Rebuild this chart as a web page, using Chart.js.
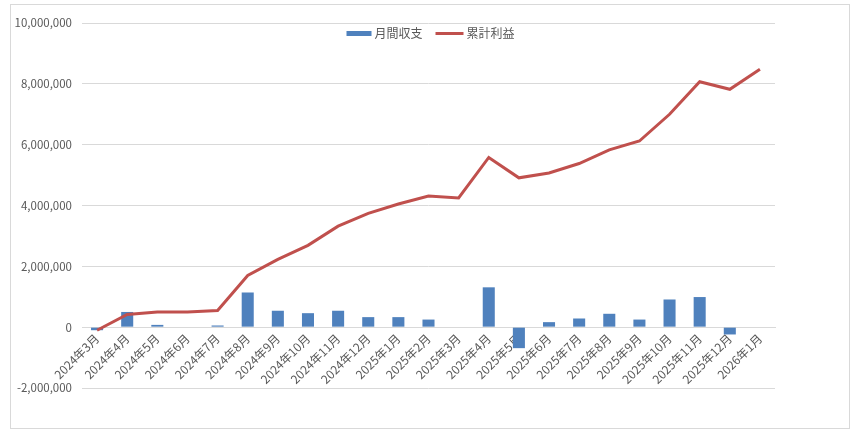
<!DOCTYPE html>
<html lang="ja">
<head>
<meta charset="utf-8">
<title>月間収支と累計利益</title>
<script src="https://cdn.jsdelivr.net/npm/chart.js@4.4.1/dist/chart.umd.min.js"></script>
<style>
  html, body { margin:0; padding:0; background:#fff; }
  #wrap { position:relative; width:856px; height:432px; }
  #frame { position:absolute; left:10px; top:4px; width:838px; height:423px; border:1px solid #d9d9d9; pointer-events:none; }
</style>
</head>
<body>
<div id="wrap">
  <canvas id="chart"></canvas>
  <div id="frame"></div>
</div>
<script>
// データ
const months = ['2024年3月','2024年4月','2024年5月','2024年6月','2024年7月','2024年8月','2024年9月','2024年10月','2024年11月','2024年12月',
  '2025年1月','2025年2月','2025年3月','2025年4月','2025年5月','2025年6月','2025年7月','2025年8月','2025年9月','2025年10月','2025年11月','2025年12月','2026年1月'];
const monthlyBalance = [-100000, 500000, 75000, 0, 55000, 1140000, 540000, 460000, 540000, 330000,
  330000, 250000, 0, 1310000, -690000, 165000, 285000, 440000, 250000, 910000, 990000, -240000, 0];
const cumulativeProfit = [-100000, 420000, 495000, 500000, 550000, 1700000, 2230000, 2690000, 3320000, 3740000,
  4050000, 4310000, 4250000, 5580000, 4910000, 5070000, 5380000, 5830000, 6120000, 7000000, 8070000, 7820000, 8480000];
const yTicks = [-2000000, 0, 2000000, 4000000, 6000000, 8000000, 10000000];

const FONT = '"Noto Sans CJK JP", "Noto Sans", sans-serif';
const TEXT = '#595959';

// Excel風の凡例（グラフ内に重ねて描く）
const topLegend = {
  id: 'topLegend',
  afterDraw(chart){
    const ctx = chart.ctx;
    const sets = chart.data.datasets;
    ctx.save();
    ctx.font = '12px ' + FONT;
    ctx.textBaseline = 'middle';
    const sw = 25, gap = 3, between = 13;
    let total = 0;
    sets.forEach((d, i) => { total += sw + gap + ctx.measureText(d.label).width + (i ? between : 0); });
    let x = chart.width / 2 - total / 2 + 1;
    const y = 33.5;
    sets.forEach((d, i) => {
      if (i) x += between;
      if (d.type === 'line') {
        ctx.strokeStyle = d.borderColor;
        ctx.lineWidth = 3;
        ctx.beginPath(); ctx.moveTo(x, y); ctx.lineTo(x + sw + 3, y); ctx.stroke();
        x += 3;
      } else {
        ctx.fillStyle = d.backgroundColor;
        ctx.fillRect(x, y - 2.5, sw, 5);
      }
      x += sw + gap;
      ctx.fillStyle = TEXT;
      ctx.fillText(d.label, x, y);
      x += ctx.measureText(d.label).width;
    });
    ctx.restore();
  }
};

const ctx = document.getElementById('chart').getContext('2d');
new Chart(ctx, {
  type: 'bar',
  data: {
    labels: months,
    datasets: [
      { type:'bar', label:'月間収支', data: monthlyBalance, backgroundColor:'#4F81BD', order: 2,
        barPercentage: 0.8, categoryPercentage: 0.5 },
      { type:'line', label:'累計利益', data: cumulativeProfit, borderColor:'#C0504D', backgroundColor:'#C0504D',
        borderWidth: 3, pointRadius: 0, tension: 0, order: 1 }
    ]
  },
  options: {
    responsive: true,
    maintainAspectRatio: false,
    animation: false,
    layout: { padding: { left: 0, right: 81, top: 23, bottom: 44 } },
    plugins: { legend: { display: false }, tooltip: { enabled: false } },
    scales: {
      x: {
        position: { y: 0 },
        offset: true,
        grid: { display: false, drawTicks: false },
        border: { display: true, color: '#d9d9d9' },
        ticks: { color: TEXT, font: { family: FONT, size: 12 }, minRotation: 45, maxRotation: 45, autoSkip: false, padding: 4 }
      },
      y: {
        min: yTicks[0],
        max: yTicks[yTicks.length - 1],
        afterBuildTicks: s => { s.ticks = yTicks.map(v => ({ value: v })); },
        afterFit: s => { s.width = 82; },
        grid: { color: '#d9d9d9', drawTicks: false },
        border: { display: false },
        ticks: { color: TEXT, font: { family: FONT, size: 11.5 }, padding: 10,
          callback: v => v.toLocaleString('en-US') }
      }
    }
  },
  plugins: [topLegend]
});
</script>
</body>
</html>
